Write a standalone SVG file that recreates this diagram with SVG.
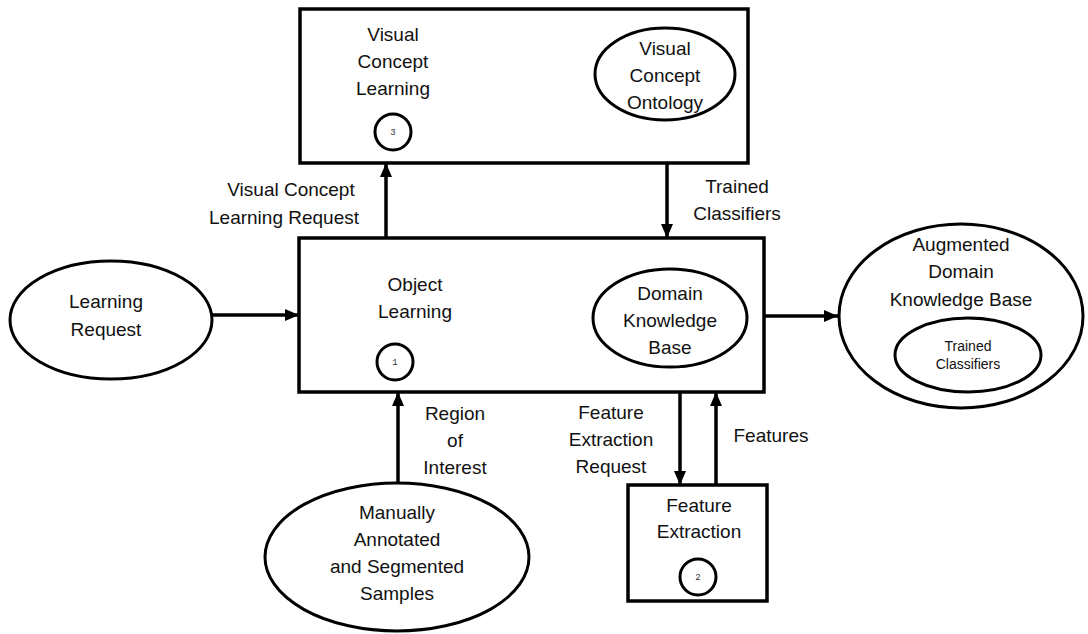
<svg xmlns="http://www.w3.org/2000/svg" width="1088" height="634" viewBox="0 0 1088 634">
<defs>
<marker id="ah" markerWidth="14" markerHeight="12" refX="14" refY="6" orient="auto" markerUnits="userSpaceOnUse">
<path d="M0,0 L14,6 L0,12 Z" fill="#000"/>
</marker>
<style>
.s{fill:#fff;stroke:#000;stroke-width:3.5}
.c{fill:#fff;stroke:#000;stroke-width:3}
.t{font-family:"Liberation Sans",Arial,sans-serif;font-size:19px;fill:#111;text-anchor:middle}
.sm{font-family:"Liberation Sans",Arial,sans-serif;font-size:14px;fill:#111;text-anchor:middle}
.n{font-family:"Liberation Mono","Courier New",monospace;font-size:9px;fill:#333;text-anchor:middle}
.l{fill:none;stroke:#000;stroke-width:3.5;marker-end:url(#ah)}
</style>
</defs>
<rect width="1088" height="634" fill="#fff"/>
<g id="connectors">
<line class="l" x1="212" y1="315" x2="299" y2="315"/>
<line class="l" x1="764" y1="316" x2="838" y2="316"/>
<line class="l" x1="386" y1="238" x2="386" y2="163"/>
<line class="l" x1="667" y1="163" x2="667" y2="238"/>
<line class="l" x1="398" y1="483" x2="398" y2="392"/>
<line class="l" x1="680" y1="392" x2="680" y2="485"/>
<line class="l" x1="716" y1="485" x2="716" y2="392"/>
<text class="t" x="291" y="196">Visual Concept</text>
<text class="t" x="284" y="224">Learning Request</text>
<text class="t" x="737" y="193">Trained</text>
<text class="t" x="737" y="220">Classifiers</text>
<text class="t" x="455" y="420">Region</text>
<text class="t" x="455" y="447">of</text>
<text class="t" x="455" y="474">Interest</text>
<text class="t" x="611" y="419">Feature</text>
<text class="t" x="611" y="446">Extraction</text>
<text class="t" x="611" y="473">Request</text>
<text class="t" x="771" y="442">Features</text>
</g>
<g id="visual-concept-learning">
<rect class="s" x="300" y="9" width="448" height="154"/>
<text class="t" x="393" y="41">Visual</text>
<text class="t" x="393" y="68">Concept</text>
<text class="t" x="393" y="95">Learning</text>
<circle class="c" cx="393" cy="132" r="18"/>
<text class="n" x="393" y="135">3</text>
</g>
<g id="visual-concept-ontology">
<ellipse class="c" cx="665" cy="74" rx="70" ry="46"/>
<text class="t" x="665" y="55">Visual</text>
<text class="t" x="665" y="82">Concept</text>
<text class="t" x="665" y="109">Ontology</text>
</g>
<g id="object-learning">
<rect class="s" x="299" y="238" width="465" height="154"/>
<text class="t" x="415" y="291">Object</text>
<text class="t" x="415" y="318">Learning</text>
<circle class="c" cx="395" cy="362" r="18"/>
<text class="n" x="395" y="365">1</text>
</g>
<g id="domain-knowledge-base">
<ellipse class="c" cx="670" cy="318" rx="77" ry="49"/>
<text class="t" x="670" y="300">Domain</text>
<text class="t" x="670" y="327">Knowledge</text>
<text class="t" x="670" y="354">Base</text>
</g>
<g id="learning-request">
<ellipse class="c" cx="111" cy="320" rx="101" ry="59"/>
<text class="t" x="106" y="308">Learning</text>
<text class="t" x="106" y="336">Request</text>
</g>
<g id="augmented-domain-knowledge-base">
<ellipse class="c" cx="961" cy="316" rx="122" ry="92"/>
<text class="t" x="961" y="251">Augmented</text>
<text class="t" x="961" y="278">Domain</text>
<text class="t" x="961" y="306">Knowledge Base</text>
<ellipse class="c" cx="968" cy="355" rx="73" ry="37"/>
<text class="sm" x="968" y="351">Trained</text>
<text class="sm" x="968" y="369">Classifiers</text>
</g>
<g id="feature-extraction">
<rect class="s" x="628" y="485" width="139" height="116"/>
<text class="t" x="699" y="512">Feature</text>
<text class="t" x="699" y="538">Extraction</text>
<circle class="c" cx="698" cy="577" r="18"/>
<text class="n" x="698" y="580">2</text>
</g>
<g id="manual-samples">
<ellipse class="c" cx="397" cy="557" rx="132" ry="74"/>
<text class="t" x="397" y="519">Manually</text>
<text class="t" x="397" y="546">Annotated</text>
<text class="t" x="397" y="573">and Segmented</text>
<text class="t" x="397" y="600">Samples</text>
</g>
</svg>
